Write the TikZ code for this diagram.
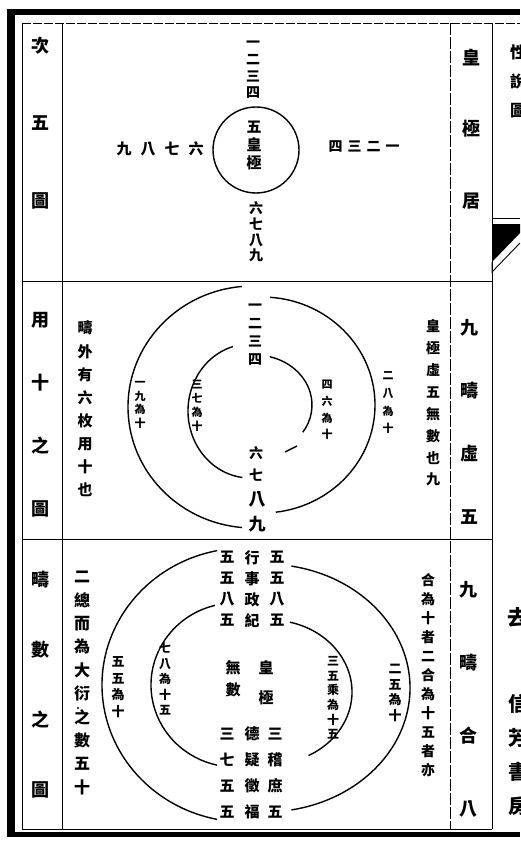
\documentclass[tikz,border=0pt]{standalone}
\usepackage{fontspec}
\setmainfont{Noto Sans CJK TC}
\begin{document}
\begin{tikzpicture}[x=1pt,y=-1pt,line width=1pt,
  vcol/.style 2 args={font=\bfseries\fontsize{#1}{#2}\selectfont,align=center,inner sep=0pt},
  ring/.style={line width=1.4pt},
  frame/.style={line width=0.9pt}]
  \useasboundingbox (0,0) rectangle (520,842);
  \fill[white] (0,0) rectangle (520,842);
  \clip (0,0) rectangle (520,842);

  \fill (7,9) rectangle (520,15);
  \fill (7,9) rectangle (15,837);
  \fill (7,832) rectangle (520,837);
  \draw[frame,dash pattern=on 9pt off 2pt] (22,23) -- (520,23);
  \draw[frame] (22,23) -- (22,829) -- (492,829);
  \draw[frame] (62,23) -- (62,829);
  \draw[frame,dash pattern=on 12pt off 2pt] (450,23) -- (450,829);
  \draw[frame] (492,23) -- (492,829);
  \draw[frame] (22,281) -- (492,281);
  \draw[frame] (22,539) -- (492,539);

  \draw[frame] (492,218) -- (520,218);
  \fill (492,224) -- (520,224) -- (520,233) -- (492,262) -- cycle;
  \draw[frame] (492,262) -- (492,272) -- (520,243);
  \node[vcol={16}{29}] (spine1) at (518,81) {性\\說\\圖};
  \node[vcol={21}{22}] (spine2) at (518,617) {去};
  \node[vcol={20}{34}] (spine3) at (518,755) {信\\芳\\書\\房};

  \node[vcol={18}{77.5}] (lefta) at (40,123) {次\\五\\圖};
  \node[vcol={18}{63}] (leftb) at (40,415) {用\\十\\之\\圖};
  \node[vcol={18}{70}] (leftc) at (40,685) {疇\\數\\之\\圖};
  \node[vcol={18}{71.5}] (righta) at (471,129) {皇\\極\\居};
  \node[vcol={18}{63}] (rightb) at (469,422) {九\\疇\\虛\\五};
  \node[vcol={18}{73}] (rightc) at (468,699) {九\\疇\\合\\八};

  \begin{scope}
    \node[draw,circle,ring,minimum size=86pt,inner sep=0pt] (hjring) at (256,150) {};
    \node[vcol={15}{18}] (hjtext) at (254,145) {五\\皇\\極};
    \node[vcol={14}{16.7}] (hjup) at (253,70) {一\\二\\三\\四};
    \node[vcol={14}{15.7}] (hjdown) at (256,232) {六\\七\\八\\九};
    \node[font=\bfseries\fontsize{15}{15}\selectfont,inner sep=0pt] (hjleft) at (160,149) {九\hspace{9pt}八\hspace{9pt}七\hspace{9pt}六};
    \node[font=\bfseries\fontsize{14}{14}\selectfont,inner sep=0pt] (hjright) at (364,147) {四\hspace{5pt}三\hspace{5pt}二\hspace{5pt}一};
  \end{scope}

  \begin{scope}
    \draw[ring] ([shift={(253,407)}]265:125 and 121) arc[start angle=265,end angle=95,x radius=125,y radius=121];
    \draw[ring] ([shift={(262,405)}]-86:113 and 108) arc[start angle=-86,end angle=83,x radius=113,y radius=108];
    \draw[ring] ([shift={(250,411)}]254:62 and 67) arc[start angle=254,end angle=97,x radius=62,y radius=67];
    \draw[ring] ([shift={(255,405)}]-75:57 and 50) arc[start angle=-75,end angle=33,x radius=57,y radius=50];
    \draw[ring] (285,452) -- (297,446);
    \node[vcol={14}{18}] (mtop) at (255,335) {一\\二\\三\\四};
    \node[vcol={14}{22}] (minner) at (256,464) {六\\七};
    \node[vcol={17}{25}] (mouter) at (257,512) {八\\九};
    \node[vcol={11}{13.5}] (yijiu) at (140,405) {一\\九\\為\\十};
    \node[vcol={11}{14}] (sanqi) at (197,406) {三\\七\\為\\十};
    \node[vcol={11}{16.7}] (siliu) at (327,410) {四\\六\\為\\十};
    \node[vcol={11}{17.7}] (erba) at (388,403) {二\\八\\為\\十};
    \node[vcol={15}{23.1}] (mleft) at (85,409) {疇\\外\\有\\六\\枚\\用\\十\\也};
    \node[vcol={14}{21.9}] (mright) at (433,403) {皇\\極\\虛\\五\\無\\數\\也\\九};
  \end{scope}

  \begin{scope}
    \draw[ring] ([shift={(245,685)}]258.7:143 and 137) arc[start angle=258.7,end angle=101.3,x radius=143,y radius=137];
    \draw[ring] ([shift={(265,688)}]-79.5:145 and 124) arc[start angle=-79.5,end angle=79.5,x radius=145,y radius=124];
    \draw[ring] ([shift={(235,685)}]256.2:84 and 82) arc[start angle=256.2,end angle=102.4,x radius=84,y radius=82];
    \draw[ring] ([shift={(270,692)}]-76:82 and 72) arc[start angle=-76,end angle=62,x radius=82,y radius=72];
    \node[vcol={15}{21}] (numa) at (227,589) {五\\五\\八\\五};
    \node[vcol={15}{21}] (namea) at (252,589) {行\\事\\政\\紀};
    \node[vcol={15}{21}] (numb) at (277,589) {五\\五\\八\\五};
    \node[vcol={15}{26}] (numc) at (227,773) {三\\七\\五\\五};
    \node[vcol={15}{26}] (nameb) at (252,773) {德\\疑\\徵\\福};
    \node[vcol={15}{26}] (numd) at (275,773) {三\\稽\\庶\\五};
    \node[vcol={15}{22}] (wushu) at (233,679) {無\\數};
    \node[vcol={15}{30}] (huangji) at (266,683) {皇\\極};
    \node[vcol={13}{16.7}] (wuwu) at (118,687) {五\\五\\為\\十};
    \node[vcol={12}{15.5}] (qiba) at (165,679) {七\\八\\為\\十\\五};
    \node[vcol={12}{14.6}] (sanwu) at (333,698) {三\\五\\乘\\為\\十\\五};
    \node[vcol={13}{15.7}] (erwu) at (395,693) {二\\五\\為\\十};
    \node[vcol={16}{23.4}] (bleft) at (82,683) {二\\總\\而\\為\\大\\衍\\之\\數\\五\\十};
    \fill (78,708) circle (1.2pt);
    \node[vcol={14}{19}] (bright) at (428,675) {合\\為\\十\\者\\二\\合\\為\\十\\五\\者\\亦};
  \end{scope}
\end{tikzpicture}
\end{document}
